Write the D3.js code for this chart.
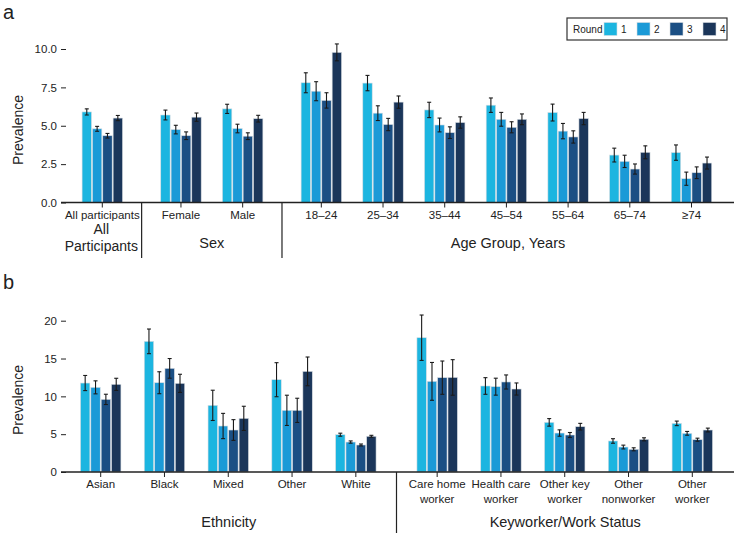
<!DOCTYPE html>
<html>
<head>
<meta charset="utf-8">
<script src="https://cdn.jsdelivr.net/npm/d3@7"></script>
<style>
  html, body { margin: 0; padding: 0; background: #fff; }
  svg { display: block; font-family: "Liberation Sans", Arial, sans-serif; }
</style>
</head>
<body>
<svg id="chart" width="734" height="533"></svg>
<script>
// ---------- DATA ----------
const rounds = ["1", "2", "3", "4"];
const roundColors = ["#1cb5e0", "#1b9ad7", "#1b4f84", "#1b365a"];

// Panel a
const aCategories = ["All participants", "Female", "Male", "18\u201324", "25\u201334", "35\u201344", "45\u201354", "55\u201364", "65\u201374", "\u226574"];
const aGroupOf = [0, 1, 1, 2, 2, 2, 2, 2, 2, 2];
const aGroupNames = [["All", "Participants"], ["Sex"], ["Age Group, Years"]];
const aValues = [
  [5.9, 4.8, 4.35, 5.5],
  [5.7, 4.75, 4.35, 5.56],
  [6.1, 4.82, 4.32, 5.46],
  [7.8, 7.25, 6.65, 9.78],
  [7.78, 5.82, 5.08, 6.54],
  [6.03, 5.05, 4.55, 5.21],
  [6.34, 5.42, 4.9, 5.42],
  [5.86, 4.65, 4.27, 5.47],
  [3.09, 2.68, 2.18, 3.27],
  [3.25, 1.55, 1.94, 2.57]
];
const aErrors = [
  [0.2, 0.16, 0.15, 0.17],
  [0.32, 0.28, 0.25, 0.27],
  [0.3, 0.28, 0.22, 0.22],
  [0.65, 0.62, 0.5, 0.55],
  [0.5, 0.48, 0.4, 0.4],
  [0.5, 0.45, 0.38, 0.37],
  [0.47, 0.45, 0.36, 0.35],
  [0.55, 0.5, 0.4, 0.4],
  [0.45, 0.4, 0.33, 0.42],
  [0.5, 0.43, 0.38, 0.39]
];
const aTicks = [0, 2.5, 5, 7.5, 10];

// Panel b
const bCategories = [["Asian"], ["Black"], ["Mixed"], ["Other"], ["White"], ["Care home", "worker"], ["Health care", "worker"], ["Other key", "worker"], ["Other", "nonworker"], ["Other", "worker"]];
const bGroupOf = [0, 0, 0, 0, 0, 1, 1, 1, 1, 1];
const bGroupNames = [["Ethnicity"], ["Keyworker/Work Status"]];
const bValues = [
  [11.76, 11.19, 9.6, 11.59],
  [17.27, 11.8, 13.7, 11.72],
  [8.81, 6.08, 5.55, 7.09],
  [12.2, 8.15, 8.15, 13.3],
  [4.93, 3.96, 3.57, 4.72],
  [17.75, 11.98, 12.47, 12.5],
  [11.37, 11.28, 11.9, 10.97],
  [6.56, 5.15, 4.89, 5.99],
  [4.1, 3.3, 3.0, 4.32],
  [6.43, 5.11, 4.27, 5.55]
];
const bErrors = [
  [1.0, 0.86, 0.68, 0.8],
  [1.63, 1.45, 1.3, 1.2],
  [2.0, 1.67, 1.37, 1.6],
  [2.25, 2.0, 1.6, 1.9],
  [0.2, 0.15, 0.13, 0.13],
  [3.0, 2.5, 2.2, 2.35],
  [1.1, 1.12, 0.93, 0.8],
  [0.5, 0.42, 0.33, 0.44],
  [0.3, 0.25, 0.2, 0.2],
  [0.3, 0.25, 0.2, 0.25]
];
const bTicks = [0, 5, 10, 15, 20];

// ---------- DRAW ----------
const svg = d3.select("#chart");
const GAP = 0.275;   // extra spacing (in category slots) between groups
const barStep = 10.35, barW = 9.4;

function slotPos(i, groupOf) { return i + groupOf[i] * GAP; }

function drawPanel(cfg) {
  const g = svg.append("g");
  const n = cfg.values.length;
  const x = d3.scaleLinear()
    .domain([0, slotPos(n - 1, cfg.groupOf)])
    .range(cfg.xRange);
  const y = d3.scaleLinear().domain(cfg.yDomain).range(cfg.yRange);
  const sub = d3.scaleBand().domain(rounds).range([-2 * barStep, 2 * barStep]);

  // y axis (ticks only, no domain line)
  const yAxis = g.append("g")
    .attr("transform", `translate(${cfg.axisLeft + 5},0)`)
    .call(d3.axisLeft(y).tickValues(cfg.ticks).tickSize(5).tickPadding(4).tickFormat(cfg.tickFormat));
  yAxis.select(".domain").remove();
  yAxis.selectAll("text").attr("font-size", 11.5).attr("fill", "#222");
  yAxis.selectAll("line").attr("stroke", "#222");

  // y title
  g.append("text")
    .attr("transform", `translate(${cfg.titleX},${cfg.titleY}) rotate(-90)`)
    .attr("text-anchor", "middle")
    .attr("font-size", 14)
    .attr("fill", "#222")
    .text("Prevalence");

  // bars
  const cat = g.selectAll("g.cat").data(cfg.values).join("g")
    .attr("class", "cat")
    .attr("transform", (d, i) => `translate(${x(slotPos(i, cfg.groupOf))},0)`);

  cat.selectAll("rect").data(d => d.map((v, k) => ({ v, k }))).join("rect")
    .attr("x", d => sub(rounds[d.k]) + (barStep - barW) / 2)
    .attr("width", barW)
    .attr("y", d => y(d.v))
    .attr("height", d => y(0) - y(d.v))
    .attr("fill", d => roundColors[d.k])
    .attr("stroke", "#d8dde2")
    .attr("stroke-width", 0.6);

  // error bars
  const eb = cat.selectAll("g.eb").data((d, i) => d.map((v, k) => ({ v, k, e: cfg.errors[i][k] }))).join("g")
    .attr("class", "eb")
    .attr("transform", d => `translate(${sub(rounds[d.k]) + barStep / 2},0)`)
    .attr("stroke", "#1a1a1a")
    .attr("stroke-width", 1.1);
  eb.append("line").attr("x1", 0).attr("x2", 0)
    .attr("y1", d => y(d.v - d.e)).attr("y2", d => y(d.v + d.e));
  eb.append("line").attr("x1", -2).attr("x2", 2)
    .attr("y1", d => y(d.v - d.e)).attr("y2", d => y(d.v - d.e));
  eb.append("line").attr("x1", -2).attr("x2", 2)
    .attr("y1", d => y(d.v + d.e)).attr("y2", d => y(d.v + d.e));

  // baseline
  g.append("line")
    .attr("x1", cfg.axisLeft).attr("x2", 734)
    .attr("y1", y(0)).attr("y2", y(0))
    .attr("stroke", "#222").attr("stroke-width", 1.3);

  // category ticks & labels
  cat.append("line").attr("x1", 0).attr("x2", 0)
    .attr("y1", y(0)).attr("y2", y(0) + 5)
    .attr("stroke", "#222");
  cat.each(function (d, i) {
    const lines = cfg.labels[i];
    const t = d3.select(this).append("text")
      .attr("text-anchor", "middle")
      .attr("font-size", 11.5)
      .attr("fill", "#222");
    lines.forEach((ln, j) => {
      t.append("tspan").attr("x", 0).attr("y", y(0) + cfg.labelDy + j * 15).text(ln);
    });
  });

  // group separators and names
  const nGroups = cfg.groupNames.length;
  const bounds = [cfg.axisLeft];
  for (let gi = 1; gi < nGroups; gi++) {
    const last = cfg.groupOf.lastIndexOf(gi - 1);
    const first = cfg.groupOf.indexOf(gi);
    bounds.push((x(slotPos(last, cfg.groupOf)) + x(slotPos(first, cfg.groupOf))) / 2);
  }
  bounds.push(734);
  for (let gi = 1; gi < nGroups; gi++) {
    g.append("line")
      .attr("x1", bounds[gi]).attr("x2", bounds[gi])
      .attr("y1", y(0)).attr("y2", cfg.sepBottom)
      .attr("stroke", "#222").attr("stroke-width", 1.2);
  }
  cfg.groupNames.forEach((names, gi) => {
    const cx = (bounds[gi] + bounds[gi + 1]) / 2;
    const multi = names.length > 1;
    const t = g.append("text").attr("text-anchor", "middle")
      .attr("font-size", multi ? 14 : 14.5).attr("fill", "#222");
    const startY = multi ? cfg.groupY - 14 : cfg.groupY;
    names.forEach((nm, j) => {
      t.append("tspan").attr("x", cx).attr("y", startY + j * 16.5).text(nm);
    });
  });
}

drawPanel({
  values: aValues, errors: aErrors, groupOf: aGroupOf,
  labels: aCategories.map(c => [c]), groupNames: aGroupNames,
  xRange: [102.3, 691.5], yDomain: [0, 10], yRange: [202.5, 49],
  ticks: aTicks, tickFormat: d3.format(".1f"),
  axisLeft: 61, titleX: 23, titleY: 130,
  labelDy: 16, groupY: 248, sepBottom: 258
});

drawPanel({
  values: bValues, errors: bErrors, groupOf: bGroupOf,
  labels: bCategories, groupNames: bGroupNames,
  xRange: [100.7, 692.3], yDomain: [0, 20], yRange: [472, 320.7],
  ticks: bTicks, tickFormat: d3.format("d"),
  axisLeft: 61, titleX: 23, titleY: 400,
  labelDy: 16, groupY: 527, sepBottom: 533
});

// panel letters
svg.append("text").attr("x", 3).attr("y", 18.5).attr("font-size", 20).attr("fill", "#222").text("a");
svg.append("text").attr("x", 3).attr("y", 289).attr("font-size", 20).attr("fill", "#222").text("b");

// legend
const leg = svg.append("g").attr("transform", "translate(567,18)");
leg.append("rect").attr("width", 160).attr("height", 22)
  .attr("fill", "#fff").attr("stroke", "#333").attr("stroke-width", 1.2);
leg.append("text").attr("x", 6).attr("y", 14.5).attr("font-size", 10).attr("fill", "#222").text("Round");
const legX = d3.scalePoint().domain(rounds).range([37, 136]);
rounds.forEach((r, k) => {
  leg.append("rect").attr("x", legX(r)).attr("y", 4.5).attr("width", 13).attr("height", 13)
    .attr("fill", roundColors[k]).attr("stroke", "#d8dde2").attr("stroke-width", 0.6);
  leg.append("text").attr("x", legX(r) + 17).attr("y", 14.5).attr("font-size", 10).attr("fill", "#222").text(r);
});
</script>
</body>
</html>
